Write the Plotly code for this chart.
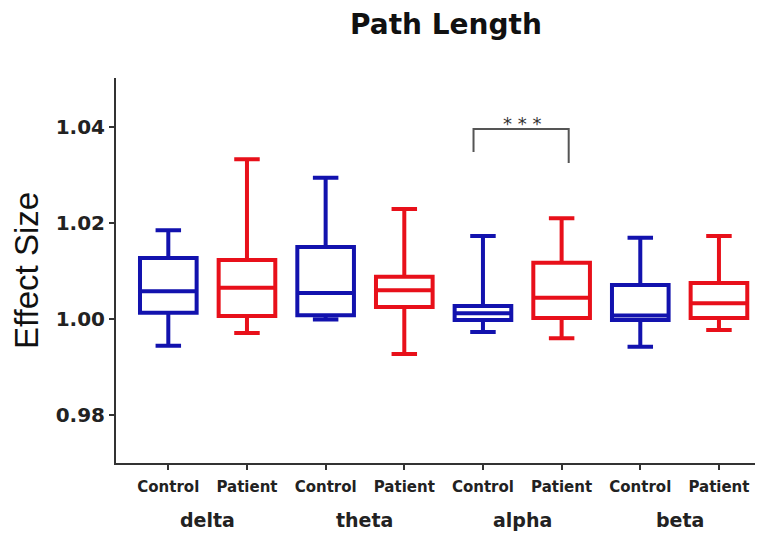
import plotly.graph_objects as go

bands = ["delta", "theta", "alpha", "beta"]
groups = ["Control", "Patient"]
y_ticks = [0.98, 1.00, 1.02, 1.04]

# Box statistics (Control, Patient per band)
ctrl_upper = [1.0185, 1.0294, 1.0173, 1.0169]
ctrl_q3 = [1.0127, 1.0150, 1.0027, 1.0071]
ctrl_median = [1.0058, 1.0054, 1.0012, 1.0007]
ctrl_q1 = [1.0013, 1.0008, 0.9998, 0.9998]
ctrl_lower = [0.9944, 0.9999, 0.9973, 0.9942]

pat_upper = [1.0333, 1.0229, 1.0210, 1.0173]
pat_q3 = [1.0123, 1.0088, 1.0117, 1.0075]
pat_median = [1.0065, 1.0060, 1.0044, 1.0033]
pat_q1 = [1.0006, 1.0025, 1.0002, 1.0002]
pat_lower = [0.9971, 0.9927, 0.9960, 0.9977]

# significance bracket (alpha band)
sig_band = "alpha"
sig_y = [1.0348, 1.0396, 1.0396, 1.0325]
sig_label = "* * *"
sig_label_y = 1.0407

BLUE = "#1212AE"
RED = "#E8101A"

ctrl_x = [2 * i for i in range(len(bands))]
pat_x = [2 * i + 1 for i in range(len(bands))]

fig = go.Figure()
common = dict(width=0.72, whiskerwidth=0.45, fillcolor="white", boxpoints=False,
              hoverinfo="skip", showlegend=False)
fig.add_trace(go.Box(x=ctrl_x, q1=ctrl_q1, median=ctrl_median, q3=ctrl_q3,
                     lowerfence=ctrl_lower, upperfence=ctrl_upper,
                     line=dict(color=BLUE, width=4), name="Control", **common))
fig.add_trace(go.Box(x=pat_x, q1=pat_q1, median=pat_median, q3=pat_q3,
                     lowerfence=pat_lower, upperfence=pat_upper,
                     line=dict(color=RED, width=4), name="Patient", **common))

bi = bands.index(sig_band)
xl, xr = 2 * bi - 0.12, 2 * bi + 1 + 0.09
fig.add_trace(go.Scatter(x=[xl, xl, xr, xr], y=sig_y, mode="lines",
                         line=dict(color="#555555", width=2), showlegend=False,
                         hoverinfo="skip"))
fig.add_annotation(x=2 * bi + 0.5, y=sig_label_y, text=sig_label, showarrow=False,
                   font=dict(family="DejaVu Sans", size=18, color="#333333"),
                   xref="x", yref="y", yanchor="middle")

for i, b in enumerate(bands):
    fig.add_annotation(x=2 * i + 0.5, y=-0.148, xref="x", yref="paper", text=b,
                       showarrow=False, yanchor="middle",
                       font=dict(family="DejaVu Sans", size=19, color="#222222",
                                 weight="bold"))

fig.update_layout(
    width=755, height=527,
    margin=dict(l=108, r=0, t=70, b=72),
    plot_bgcolor="white", paper_bgcolor="white",
    title=dict(text="<b>Path Length</b>", x=0.580, xanchor="center", y=0.970,
               yanchor="middle",
               font=dict(family="DejaVu Sans", size=28, color="#111111")),
    xaxis=dict(range=[-0.665, 7.56], tickmode="array",
               tickvals=ctrl_x + pat_x,
               ticktext=[groups[0]] * len(bands) + [groups[1]] * len(bands),
               showline=True, linecolor="#333333", linewidth=2,
               ticks="outside", ticklen=5, tickwidth=2, tickcolor="#333333",
               ticklabelstandoff=4,
               showgrid=False, zeroline=False,
               tickfont=dict(family="DejaVu Sans", size=15, color="#222222",
                             weight="bold")),
    yaxis=dict(range=[0.97, 1.0502], tickmode="array", tickvals=y_ticks,
               ticktext=[f"{v:.2f}" for v in y_ticks],
               showline=True, linecolor="#333333", linewidth=2,
               ticks="outside", ticklen=5, tickwidth=2, tickcolor="#333333",
               showgrid=False, zeroline=False,
               tickfont=dict(family="DejaVu Sans", size=20, color="#222222",
                             weight="bold"),
               title=dict(text="Effect Size", standoff=11,
                          font=dict(family="Liberation Sans", size=33,
                                    color="#111111"))),
)

fig.write_html("out.html")
